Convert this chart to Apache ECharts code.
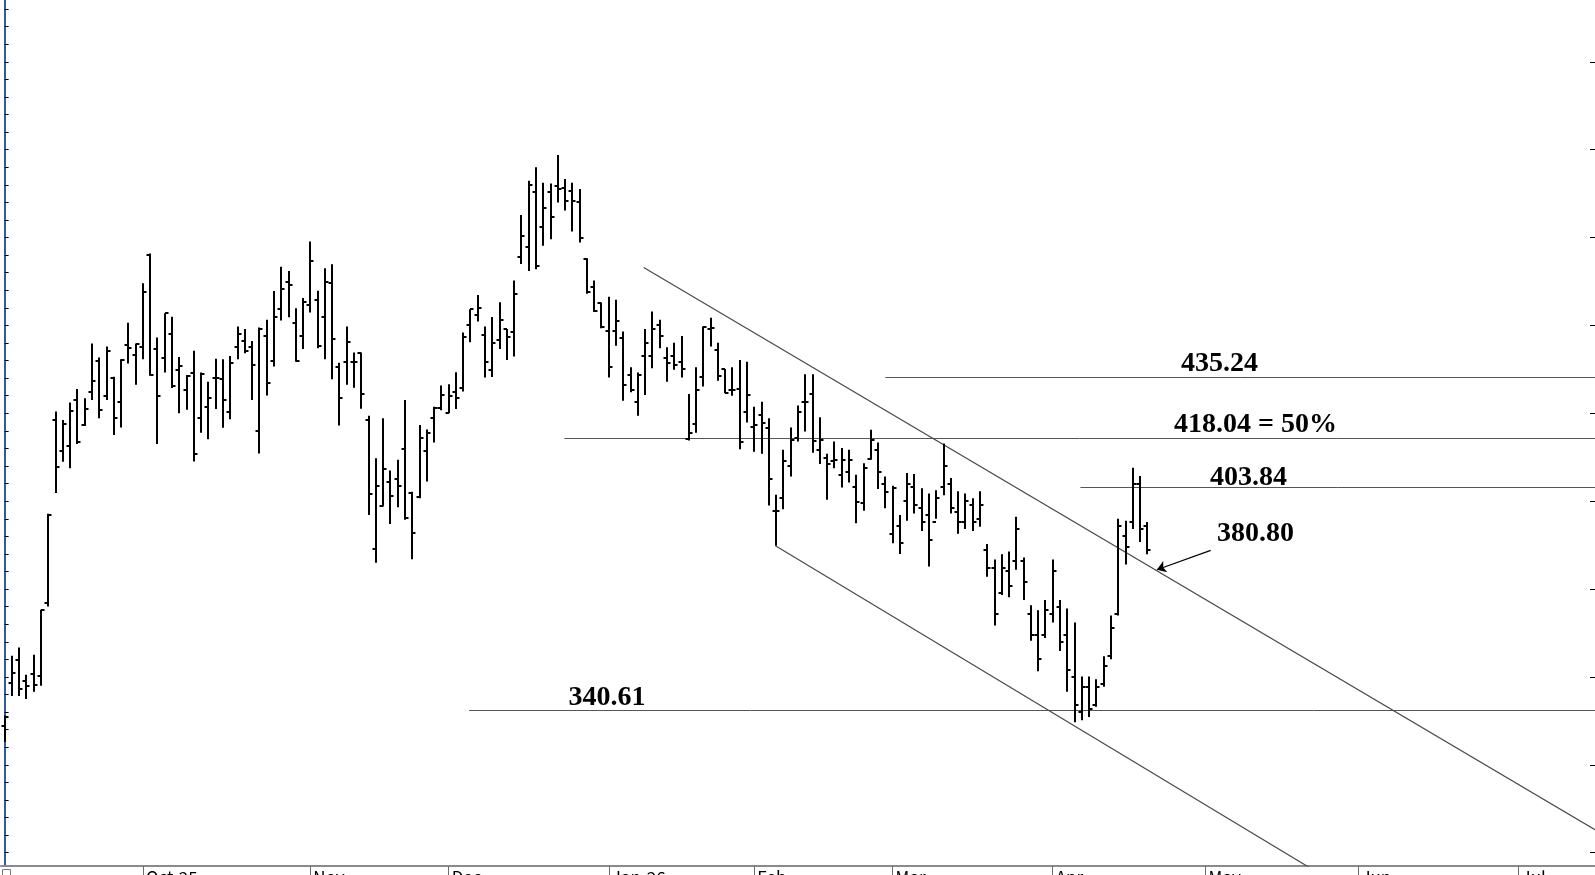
<!DOCTYPE html>
<html>
<head>
<meta charset="utf-8">
<script src="https://cdn.jsdelivr.net/npm/echarts@6/dist/echarts.min.js"></script>
<style>
html,body{margin:0;padding:0;background:#fff;}
#chart{width:1595px;height:875px;}
</style>
</head>
<body>
<div id="chart"></div>
<script>
// ---- calendar: month names and number of bar slots per month ----
const monthNames = ['Sep-25','Oct-25','Nov','Dec','Jan-26','Feb','Mar','Apr','May','Jun','Jul'];
const monthBars  = [19, 23, 19, 22, 20, 19, 22, 21, 21, 22, 11];

// ---- daily OHLC (one entry per trading day from the first visible bar) ----
const openVals = [
 336.0,348.2,354.8,348.7,350.8,350.3,371.0,423.1,414.4,415.8,
 428.8,421.7,431.2,439.9,429.8,435.0,428.3,444.5,441.6,444.0,
 470.0,443.3,440.7,447.6,437.3,431.7,436.6,423.6,426.9,435.0,
 434.7,425.5,444.0,445.7,444.0,420.0,446.9,440.0,454.7,462.5,
 450.8,446.9,455.9,457.3,452.3,462.0,438.1,439.5,439.5,442.1,
 423.1,386.4,398.7,405.6,406.3,414.8,402.4,401.3,414.4,423.8,
 426.4,425.2,431.0,432.1,450.2,453.0,447.3,437.4,445.9,449.0,
 448.0,469.6,472.2,488.1,478.0,488.1,489.8,489.2,488.3,485.2,
 469.0,461.0,456.3,448.3,448.3,446.4,435.9,428.1,441.2,441.2,
 450.1,440.7,441.3,439.7,417.8,422.0,435.3,448.9,443.0,437.6,
 431.7,432.0,425.3,421.2,424.4,420.8,397.1,400.8,410.0,418.1,
 428.1,430.4,414.6,412.2,411.3,407.5,408.2,404.0,399.6,411.9,
 414.6,405.0,390.7,393.0,400.0,404.0,398.0,396.0,394.0,404.0,
 405.0,397.0,394.0,399.0,395.0,386.0,381.0,374.0,380.0,383.0,
 383.0,368.0,362.0,362.0,368.0,370.0,362.0,350.0,340.0,347.0,
 342.0,348.0,356.0,368.0,390.0,394.0,405.0,393.0];
const highVals = [
 339.0,356.0,358.4,350.6,356.3,369.1,396.4,425.5,423.1,428.1,
 431.9,429.3,444.9,440.9,444.0,435.4,440.4,450.8,444.9,462.0,
 470.5,446.6,453.5,452.5,441.0,435.9,442.8,436.6,434.0,440.5,
 440.4,441.3,449.7,449.0,445.6,449.4,451.6,459.8,466.7,465.5,
 454.9,457.8,473.9,459.9,466.3,467.4,439.4,449.7,442.3,442.3,
 424.3,412.2,423.6,408.7,411.8,428.8,402.7,421.7,420.4,426.9,
 432.9,433.3,436.7,448.0,454.6,458.7,449.7,452.4,456.6,449.0,
 462.8,481.4,491.2,495.0,490.6,490.4,498.5,491.7,490.6,488.8,
 469.1,462.8,456.5,458.2,457.3,448.3,438.1,436.6,449.0,454.0,
 451.6,443.8,445.1,447.0,430.5,438.1,449.7,452.2,445.1,437.6,
 438.1,440.2,439.7,426.9,428.3,423.6,401.8,414.6,421.0,427.2,
 436.1,436.1,423.9,413.5,417.0,415.1,414.6,407.5,410.8,420.3,
 416.7,407.0,404.4,396.1,408.0,407.7,403.7,402.2,403.1,416.4,
 406.6,402.8,402.2,400.8,402.8,387.8,383.4,384.9,385.7,395.6,
 384.0,370.4,369.0,371.9,383.4,371.9,369.5,365.5,350.1,350.1,
 349.3,355.9,367.5,395.0,394.4,409.5,407.2,394.1];
const lowVals = [
 331.5,344.6,344.6,343.7,345.8,347.5,370.0,402.3,411.2,409.4,
 416.3,421.4,428.8,423.6,428.8,418.8,421.0,439.2,433.1,440.4,
 435.7,416.3,436.6,432.2,425.0,426.0,411.3,419.5,417.6,426.2,
 420.9,423.3,440.4,442.1,428.8,413.6,430.1,438.3,451.4,452.3,
 439.7,443.3,453.7,443.5,440.4,434.7,421.5,433.1,432.3,426.3,
 396.1,382.5,398.5,393.5,398.3,394.7,383.5,400.8,405.6,416.7,
 425.9,425.0,426.2,431.2,445.2,451.1,435.2,435.3,443.3,440.2,
 441.2,467.5,465.5,466.0,472.7,474.5,485.0,482.7,476.7,473.6,
 459.0,453.8,449.2,435.2,444.2,428.6,431.0,424.3,430.2,437.8,
 443.5,434.0,437.4,435.2,417.3,419.5,432.6,444.0,434.3,430.7,
 430.0,414.8,422.4,414.1,413.5,398.8,387.3,397.7,407.0,417.0,
 419.8,413.8,410.6,400.4,409.4,403.9,405.3,393.7,397.3,411.8,
 403.5,398.0,388.0,385.0,394.4,396.5,391.5,381.4,395.0,401.7,
 396.5,390.7,392.1,391.5,392.7,378.5,364.6,373.3,372.7,380.5,
 371.9,360.3,351.6,361.1,365.5,357.4,345.8,337.1,337.7,338.6,
 341.5,347.2,355.0,367.5,382.0,392.1,388.4,384.9];
const closeVals = [
 338.5,351.0,346.6,347.3,347.7,369.0,396.1,409.8,421.9,425.8,
 416.7,426.3,434.2,426.0,442.8,423.6,440.2,443.5,444.7,459.5,
 436.0,429.8,453.5,432.9,438.5,435.6,413.4,436.1,429.3,435.0,
 428.8,439.3,447.5,442.6,438.8,448.9,433.7,452.4,460.4,461.6,
 440.0,456.6,468.4,444.2,462.3,446.1,429.5,445.4,439.7,430.6,
 402.0,404.4,409.1,401.5,404.2,395.1,391.0,417.9,419.5,426.6,
 430.2,430.0,429.3,446.8,454.6,455.1,439.5,445.1,451.6,446.8,
 458.9,475.5,490.0,467.0,483.3,481.0,488.7,485.4,485.4,475.0,
 459.4,454.2,449.5,438.1,451.4,433.1,431.5,435.9,445.1,448.9,
 447.0,439.3,438.8,437.6,419.5,431.5,449.5,449.2,435.5,430.9,
 431.5,416.7,430.3,421.7,422.2,406.2,397.3,411.3,417.4,425.3,
 428.3,417.2,417.4,410.6,411.6,411.8,411.8,399.9,409.4,417.4,
 408.4,402.7,403.7,388.0,405.0,399.0,394.0,389.0,401.0,410.0,
 398.0,394.0,400.0,394.0,399.0,381.0,368.0,381.0,376.0,392.0,
 377.0,362.0,355.0,369.0,380.0,360.0,352.0,342.0,347.0,341.0,
 347.0,353.0,364.0,393.0,387.0,405.0,392.0,386.0];

// ---- price axis ----
const priceMin = 296.2, priceMax = 542.6;
const majorTicks = [300,325,350,375,400,425,450,475,500,525];
const minorTicks = [300,305,310,315,320,325,330,335,340,345,350,355,360,365,370,375,380,385,390,395,
                    400,405,410,415,420,425,430,435,440,445,450,455,460,465,470,475,480,485,490,495,
                    500,505,510,515,520,525,530,535,540];

// ---- drawn levels (price) and the bar index where each one starts ----
const levelValues   = [435.24, 418.04, 403.84, 340.61];
const levelStartBar = [121.0, 76.9, 147.8, 63.8];
const levelTexts    = ['435.24', '418.04 = 50%', '403.84', '340.61'];

// ---- trend channel, as [barIndex, price] end points ----
const upperTrend = [[87.8, 466.5], [218.5, 306.5]];
const lowerTrend = [[105.9, 387.3], [181.0, 293.6]];

// ---- pointer annotation ----
const pointerText = '380.80';
const pointerFrom = [165.7, 386.0];
const pointerTo   = [158.3, 380.5];

// ---- build categories ----
const categories = [];
const monthStart = new Set();
monthNames.forEach((m, i) => {
  for (let d = 0; d < monthBars[i]; d++) {
    if (d === 0) monthStart.add(categories.length);
    categories.push(m + '|' + d);
  }
});
const totalSlots = categories.length;
const isMonthStart = (idx) => idx > 0 && monthStart.has(idx);

const ohlc = openVals.map((o, i) => [i, o, highVals[i], lowVals[i], closeVals[i]]);
const lastSlot = totalSlots - 0.5;

// annotation anchors in [barIndex, price]
const annotations = [
  { text: levelTexts[0], at: [166.9, 439.2] },
  { text: levelTexts[1], at: [171.85, 421.7] },
  { text: levelTexts[2], at: [170.9, 406.8] },
  { text: pointerText,   at: [171.85, 390.8] },
  { text: levelTexts[3], at: [82.75, 344.0] }
];

const chart = echarts.init(document.getElementById('chart'), null, { renderer: 'canvas' });

const option = {
  animation: false,
  backgroundColor: '#ffffff',
  grid: { left: 1, right: 0, top: 0, bottom: 9, containLabel: false, outerBoundsMode: 'none' },
  xAxis: [
    {
      type: 'category',
      data: categories,
      boundaryGap: true,
      axisLine: { show: true, lineStyle: { color: '#8a8a8a', width: 2 } },
      axisTick: { show: true, alignWithLabel: true, interval: isMonthStart, length: 12,
                  lineStyle: { color: '#6e6e6e', width: 1 } },
      axisLabel: { show: true, interval: isMonthStart, formatter: v => v.split('|')[0],
                   align: 'left', padding: [0, 0, 0, 3], margin: 3, fontSize: 17,
                   color: '#000', fontFamily: '"Noto Sans CJK JP", sans-serif' },
      splitLine: { show: false }
    },
    { type: 'value', min: -0.5, max: lastSlot, show: false }
  ],
  yAxis: [
    {
      type: 'value', position: 'left', min: priceMin, max: priceMax, scale: true,
      axisLine: { show: true, lineStyle: { color: '#2e5c9a', width: 2 } },
      axisTick: { show: true, inside: true, length: 4, customValues: minorTicks,
                  lineStyle: { color: '#000', width: 1 } },
      axisLabel: { show: false },
      splitLine: { show: false }
    },
    {
      type: 'value', position: 'right', min: priceMin, max: priceMax, scale: true,
      axisLine: { show: false },
      axisTick: { show: true, inside: true, length: 5, customValues: majorTicks,
                  lineStyle: { color: '#000', width: 1 } },
      axisLabel: { show: false },
      splitLine: { show: false }
    }
  ],
  graphic: [
    { type: 'rect', left: 2, top: 869, shape: { width: 8, height: 8 },
      style: { fill: '#fff', stroke: '#777', lineWidth: 1 } }
  ],
  series: [
    {
      type: 'lines', coordinateSystem: 'cartesian2d', xAxisIndex: 1, yAxisIndex: 0,
      polyline: false, silent: true, z: 2,
      lineStyle: { color: '#555', width: 1, opacity: 1 },
      data: levelValues.map((v, i) => ({ coords: [[levelStartBar[i], v], [lastSlot, v]] }))
    },
    {
      type: 'lines', coordinateSystem: 'cartesian2d', xAxisIndex: 1, yAxisIndex: 0,
      polyline: false, silent: true, z: 2,
      lineStyle: { color: '#4a4a4a', width: 1.2, opacity: 1 },
      data: [ { coords: upperTrend }, { coords: lowerTrend } ]
    },
    {
      type: 'lines', coordinateSystem: 'cartesian2d', xAxisIndex: 1, yAxisIndex: 0,
      polyline: false, silent: true, z: 4,
      symbol: ['none', 'arrow'], symbolSize: 9,
      lineStyle: { color: '#000', width: 1.2, opacity: 1 },
      data: [ { coords: [pointerFrom, pointerTo] } ]
    },
    {
      type: 'custom', xAxisIndex: 1, yAxisIndex: 0, z: 3, silent: true,
      encode: { x: 0, y: [1, 2, 3, 4] },
      data: ohlc,
      renderItem: function (params, api) {
        const x = api.value(0);
        const pO = api.coord([x, api.value(1)]);
        const pH = api.coord([x, api.value(2)]);
        const pL = api.coord([x, api.value(3)]);
        const pC = api.coord([x, api.value(4)]);
        const cx = Math.round(pH[0]);
        const yo = Math.round(pO[1]), yc = Math.round(pC[1]);
        return {
          type: 'group',
          children: [
            { type: 'line', shape: { x1: cx, y1: pH[1], x2: cx, y2: pL[1] },
              style: { stroke: '#000', lineWidth: 2 } },
            { type: 'line', shape: { x1: cx - 3.5, y1: yo, x2: cx, y2: yo },
              style: { stroke: '#000', lineWidth: 2 } },
            { type: 'line', shape: { x1: cx, y1: yc, x2: cx + 3.5, y2: yc },
              style: { stroke: '#000', lineWidth: 2 } }
          ]
        };
      }
    },
    {
      type: 'custom', xAxisIndex: 1, yAxisIndex: 0, z: 5, silent: true,
      data: annotations.map(a => a.at),
      renderItem: function (params, api) {
        const p = api.coord([api.value(0), api.value(1)]);
        return {
          type: 'text', x: p[0], y: p[1],
          style: {
            text: annotations[params.dataIndex].text,
            fill: '#000',
            font: 'bold 28px "Liberation Serif", "Times New Roman", serif',
            align: 'center', verticalAlign: 'middle'
          }
        };
      }
    }
  ]
};
chart.setOption(option);
</script>
</body>
</html>
